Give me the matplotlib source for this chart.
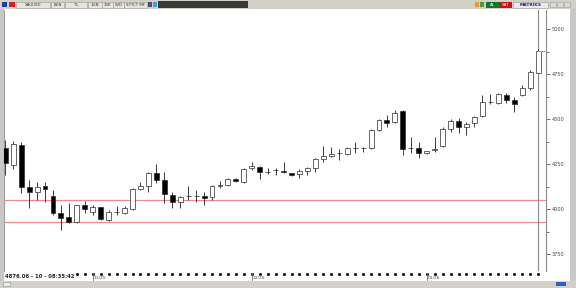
import matplotlib
matplotlib.use("Agg")
import matplotlib.pyplot as plt
import matplotlib.patches as mpatches
import matplotlib.transforms as mtrans
import numpy as np

# daily XAU/USD candles (oldest first)
opens = [4339, 4244, 4356, 4122, 4094, 4128, 4072, 3978, 3956, 3928,
         4022, 3983, 4011, 3939, 3983, 3978, 4000, 4111, 4128, 4200,
         4161, 4078, 4039, 4070, 4072, 4072, 4067, 4131, 4133, 4167,
         4150, 4228, 4233, 4206, 4217, 4211, 4200, 4194, 4211, 4228,
         4278, 4294, 4311, 4306, 4339, 4339, 4339, 4439, 4494, 4483,
         4544, 4339, 4339, 4311, 4330, 4350, 4444, 4489, 4456, 4478,
         4517, 4594, 4589, 4633, 4606, 4633, 4672, 4756]
highs = [4383, 4378, 4372, 4161, 4150, 4150, 4106, 4022, 4033, 4025,
         4044, 4022, 4014, 3994, 4017, 4017, 4117, 4150, 4206, 4250,
         4206, 4094, 4072, 4128, 4106, 4094, 4133, 4156, 4172, 4170,
         4228, 4261, 4239, 4228, 4228, 4261, 4203, 4222, 4233, 4283,
         4350, 4344, 4333, 4344, 4372, 4344, 4444, 4500, 4522, 4550,
         4550, 4400, 4372, 4325, 4400, 4456, 4500, 4506, 4483, 4517,
         4633, 4639, 4644, 4644, 4622, 4689, 4772, 4889]
lows = [4189, 4222, 4089, 4006, 4050, 4039, 3967, 3883, 3922, 3922,
        3978, 3967, 3939, 3933, 3967, 3972, 3994, 4106, 4094, 4144,
        4033, 4006, 4006, 4050, 4039, 4022, 4050, 4117, 4128, 4150,
        4144, 4217, 4167, 4194, 4189, 4200, 4183, 4172, 4189, 4206,
        4261, 4289, 4272, 4300, 4311, 4317, 4333, 4433, 4456, 4478,
        4300, 4311, 4283, 4308, 4317, 4344, 4428, 4422, 4411, 4456,
        4511, 4583, 4583, 4589, 4539, 4628, 4661, 4756]
closes = [4256, 4361, 4122, 4094, 4122, 4111, 3978, 3950, 3928, 4022,
          4000, 4011, 3944, 3983, 3985, 4006, 4111, 4128, 4200, 4161,
          4083, 4039, 4067, 4072, 4070, 4064, 4128, 4133, 4167, 4156,
          4222, 4239, 4206, 4208, 4217, 4206, 4189, 4211, 4228, 4278,
          4294, 4306, 4311, 4339, 4340, 4341, 4439, 4494, 4478, 4533,
          4333, 4337, 4311, 4322, 4333, 4444, 4489, 4456, 4472, 4511,
          4594, 4597, 4639, 4606, 4583, 4672, 4761, 4876.06]

month_pos = [11, 31, 53]
month_labels = ["11/25", "12/25", "01/26"]
support_levels = [4050, 3930]
y_ticks = [3750, 4000, 4250, 4500, 4750, 5000]

W, H = 576, 288
fig = plt.figure(figsize=(W / 100, H / 100), dpi=100, facecolor="#c8c8c8")


def px(x0, y0, w, h):
    # rectangle in screen pixels (origin top-left) -> figure fraction
    return [x0 / W, 1 - (y0 + h) / H, w / W, h / H]


# white work area behind the chart
fig.patches.append(mpatches.Rectangle((4 / W, 1 - 281 / H), 566 / W, 272 / H,
                                      transform=fig.transFigure,
                                      facecolor="white", edgecolor="none", zorder=-10))

# --- top toolbar -----------------------------------------------------------
bar = fig.add_axes(px(0, 0, W, 9))
bar.set_xlim(0, W)
bar.set_ylim(9, 0)
bar.axis("off")
bar.add_patch(mpatches.Rectangle((0, 0), W, 9, facecolor="#d4d0c8", edgecolor="none"))
bar.add_patch(mpatches.Rectangle((158, 1), 90, 7, facecolor="#3a3a3a", edgecolor="none"))
bar.add_patch(mpatches.Rectangle((2, 2), 5, 5, facecolor="#1f3f9f", edgecolor="none"))
bar.add_patch(mpatches.Rectangle((9, 2), 6, 5, facecolor="#cc2222", edgecolor="none"))
buttons = [(16, 34, "XAUUSD"), (51, 13, "BUN"), (65, 22, "TL"), (88, 14, "1GN"),
           (102, 11, "10K"), (113, 11, "5VD"), (124, 23, "SYYCT MF")]
for x0, w, txt in buttons:
    bar.add_patch(mpatches.Rectangle((x0, 1.5), w, 6, facecolor="#e6e4de",
                                     edgecolor="#9a9a9a", lw=0.4))
    bar.text(x0 + w / 2, 4.6, txt, fontsize=2.8, ha="center", va="center", color="#333333")
bar.add_patch(mpatches.Rectangle((148, 2), 4, 5, facecolor="#405080", edgecolor="none"))
bar.add_patch(mpatches.Rectangle((153, 2), 4, 5, facecolor="#3aa0e0", edgecolor="none"))
bar.add_patch(mpatches.Rectangle((475, 2), 4, 5, facecolor="#e0a020", edgecolor="none"))
bar.add_patch(mpatches.Rectangle((480, 2), 4, 5, facecolor="#40a040", edgecolor="none"))
bar.add_patch(mpatches.Rectangle((486, 1.5), 13, 6, facecolor="#0a7a2a", edgecolor="none"))
bar.text(492.5, 4.6, "AL", fontsize=2.8, ha="center", va="center", color="white")
bar.add_patch(mpatches.Rectangle((499, 1.5), 13, 6, facecolor="#c01818", edgecolor="none"))
bar.text(505.5, 4.6, "SAT", fontsize=2.8, ha="center", va="center", color="white")
bar.add_patch(mpatches.Rectangle((513, 1.5), 35, 6, facecolor="#e8e8f0", edgecolor="#9a9a9a", lw=0.4))
bar.text(530.5, 4.6, "MATRİKS", fontsize=3.2, ha="center", va="center",
         color="#1a2a80", fontweight="bold")
for x0 in (550, 557, 564):
    bar.add_patch(mpatches.Rectangle((x0, 2), 6, 5, facecolor="#d8d8d8", edgecolor="#a0a0a0", lw=0.4))

# --- price chart -----------------------------------------------------------
ax = fig.add_axes(px(4, 10, 542, 261))
ax.set_facecolor("white")
n = len(opens)
x = np.arange(n)
o = np.array(opens, dtype=float)
c = np.array(closes, dtype=float)
hi = np.array(highs, dtype=float)
lo = np.array(lows, dtype=float)
up = c >= o

ax.vlines(x, lo, hi, color="#1a1a1a", lw=0.6, zorder=2)
body_h = np.maximum(np.abs(c - o), 1.5)
ax.bar(x, body_h, bottom=np.minimum(o, c), width=0.62,
       color=np.where(up, "white", "black"), edgecolor="#2a2a2a", lw=0.5, zorder=3)

for lvl in support_levels:
    ax.axhline(lvl, color="#f08a8a", lw=0.9, zorder=1)

ax.axvline(n - 1, color="#8a8a8a", lw=0.8, zorder=1)

ax.set_xlim(-0.16, n - 1 + 1.0)
ax.set_ylim(3656, 5106)

for s in ("top", "bottom"):
    ax.spines[s].set_visible(False)
ax.spines["left"].set_color("#a0a0a0")
ax.spines["right"].set_color("#8a8a8a")
ax.spines["left"].set_linewidth(0.8)
ax.spines["right"].set_linewidth(0.8)

ax.yaxis.tick_right()
ax.set_yticks(y_ticks)
ax.set_yticklabels([str(v) for v in y_ticks])
ax.set_yticks([v + 125 for v in y_ticks[:-1]], minor=True)
ax.tick_params(axis="y", which="major", length=3, width=0.6, color="#555555",
               labelsize=3.6, labelcolor="#444444", pad=1)
ax.tick_params(axis="y", which="minor", length=2, width=0.6, color="#555555")
ax.set_xticks([])

# last price marker on the axis
ax.plot([n - 1, n - 1 + 1.0], [closes[-1], closes[-1]], color="#30d0e0", lw=0.8,
        zorder=4, clip_on=False)

# day dots and month labels along the bottom
trans = mtrans.blended_transform_factory(ax.transData, ax.transAxes)
ax.plot(x, np.full(n, -0.012), "s", ms=1.0, color="black", transform=trans, clip_on=False)
for pos, lbl in zip(month_pos, month_labels):
    ax.plot([pos, pos], [-0.006, -0.036], color="#707070", lw=0.6,
            transform=trans, clip_on=False)
    ax.text(pos + 0.15, -0.027, lbl, fontsize=3.2, color="#444444",
            transform=trans, va="center", ha="left")

fig.text(5 / W, 1 - 276 / H, "4876.06 - 10 - 08:35:42", fontsize=3.8, fontweight="bold",
         color="#222222", va="center", ha="left",
         bbox=dict(facecolor="white", edgecolor="none", pad=0.6))

# bottom status strip
fig.patches.append(mpatches.Rectangle((0, 0), 1, 7 / H, transform=fig.transFigure,
                                      facecolor="#d4d0c8", edgecolor="none", zorder=1))
fig.patches.append(mpatches.Rectangle((3 / W, 2 / H), 7 / W, 4 / H, transform=fig.transFigure,
                                      facecolor="#ececec", edgecolor="#909090", lw=0.4, zorder=2))
fig.patches.append(mpatches.Rectangle((556 / W, 2 / H), 10 / W, 4 / H, transform=fig.transFigure,
                                      facecolor="#3060c0", edgecolor="none", zorder=2))

fig.savefig("out.png", dpi=100, facecolor=fig.get_facecolor())
